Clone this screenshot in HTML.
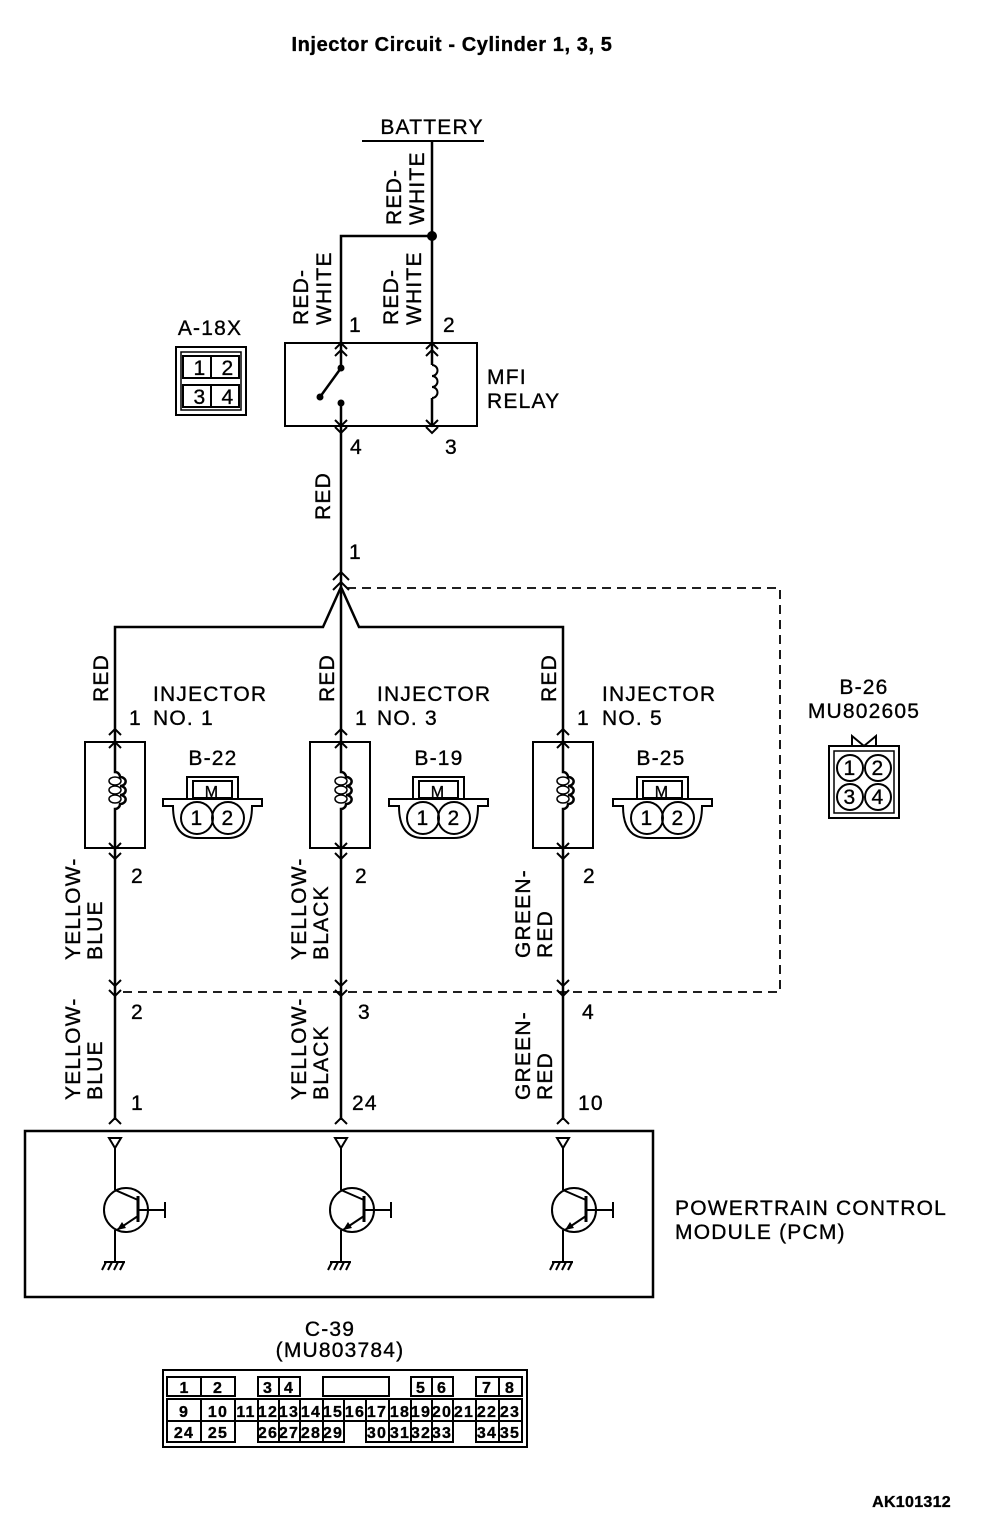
<!DOCTYPE html>
<html><head><meta charset="utf-8"><style>
html,body{margin:0;padding:0;background:#fff}
svg{display:block}
text{font-family:"Liberation Sans",Arial,sans-serif;fill:#000}
.m text{letter-spacing:1.2px;stroke:#000;stroke-width:0.35px}
</style></head><body>
<svg width="1008" height="1536" viewBox="0 0 1008 1536" xmlns="http://www.w3.org/2000/svg">
<g font-size="21" class="m">
<text x="452" y="51" text-anchor="middle" font-weight="bold" font-size="20" style="letter-spacing:0.6px">Injector Circuit - Cylinder 1, 3, 5</text>

<text x="432" y="134" text-anchor="middle">BATTERY</text>
<line x1="362" y1="141" x2="484" y2="141" stroke="#000" stroke-width="2"/>
<g stroke="#000" stroke-width="2.5" fill="none">
<line x1="432" y1="141" x2="432" y2="426"/>
<polyline points="341,426 341,236 432,236"/>
<line x1="341" y1="426" x2="341" y2="627"/>
</g>
<circle cx="432" cy="236" r="5"/>
<text transform="translate(401,225) rotate(-90)">RED-</text>
<text transform="translate(424,225) rotate(-90)">WHITE</text>
<text transform="translate(308,325) rotate(-90)">RED-</text>
<text transform="translate(331,325) rotate(-90)">WHITE</text>
<text transform="translate(398,325) rotate(-90)">RED-</text>
<text transform="translate(421,325) rotate(-90)">WHITE</text>
<text x="349" y="332">1</text><text x="443" y="332">2</text>
<text x="350" y="454">4</text><text x="445" y="454">3</text>

<rect x="285" y="343" width="192" height="83" fill="#fff" stroke="#000" stroke-width="2"/>
<g stroke="#000" stroke-width="2.5" fill="none">
<line x1="341" y1="343" x2="341" y2="368"/>
<line x1="341" y1="368" x2="320" y2="397"/>
<line x1="341" y1="403" x2="341" y2="426"/>
<line x1="432" y1="343" x2="432" y2="365"/>
<line x1="432" y1="398" x2="432" y2="426"/>
<path d="M432,365 a5,5 0 0 1 0,11 a5,5 0 0 1 0,11 a5,5 0 0 1 0,11" stroke-width="2"/>
<path d="M335,349 l6,-6 l6,6 M335,356 l6,-6 l6,6 M426,349 l6,-6 l6,6 M426,356 l6,-6 l6,6" stroke-width="2"/>
<path d="M335,420 l6,6 l6,-6 M335,427 l6,6 l6,-6 M426,420 l6,6 l6,-6 M426,427 l6,6 l6,-6" stroke-width="2"/>
</g>
<circle cx="341" cy="368" r="3.5"/><circle cx="320" cy="397" r="3.5"/><circle cx="341" cy="403" r="3.5"/>
<text x="487" y="384">MFI</text><text x="487" y="408">RELAY</text>

<text x="210" y="335" text-anchor="middle">A-18X</text>
<rect x="176" y="347" width="70" height="68" fill="none" stroke="#000" stroke-width="2"/>
<rect x="181" y="352" width="60" height="58" fill="none" stroke="#000" stroke-width="1.5"/>
<rect x="183" y="356" width="28" height="22" fill="none" stroke="#000" stroke-width="2"/>
<rect x="211" y="356" width="28" height="22" fill="none" stroke="#000" stroke-width="2"/>
<rect x="183" y="385" width="28" height="22" fill="none" stroke="#000" stroke-width="2"/>
<rect x="211" y="385" width="28" height="22" fill="none" stroke="#000" stroke-width="2"/>
<text x="200" y="375" text-anchor="middle">1</text><text x="228" y="375" text-anchor="middle">2</text>
<text x="200" y="404" text-anchor="middle">3</text><text x="228" y="404" text-anchor="middle">4</text>

<text transform="translate(330,520) rotate(-90)">RED</text>
<text x="349" y="559">1</text>

<g stroke="#000" stroke-width="2.5" fill="none">
<polyline points="115,992 115,627 323,627 341,587 359,627 563,627 563,1120"/>
<line x1="115" y1="992" x2="115" y2="1120"/>
<line x1="341" y1="627" x2="341" y2="1120"/>
<path d="M333,580 l8,-8 l8,8 M333,590 l8,-8 l8,8" stroke-width="2"/>
</g>
<polyline points="347,588 780,588 780,992 118,992" fill="none" stroke="#000" stroke-width="1.8" stroke-dasharray="9,6"/>

<g stroke="#000" stroke-width="2" fill="none">
<rect x="85" y="742" width="60" height="106" fill="#fff"/>
<rect x="310" y="742" width="60" height="106" fill="#fff"/>
<rect x="533" y="742" width="60" height="106" fill="#fff"/>
</g>
<g stroke="#000" stroke-width="2.5" fill="none">
<path d="M115,742 V772 a5,5 0 0 1 5,5 a5,4 0 0 1 0,9 a5,4 0 0 1 0,9 a5,4 0 0 1 0,9 a5,5 0 0 1 -5,5 V848"/>
<path d="M341,742 V772 a5,5 0 0 1 5,5 a5,4 0 0 1 0,9 a5,4 0 0 1 0,9 a5,4 0 0 1 0,9 a5,5 0 0 1 -5,5 V848"/>
<path d="M563,742 V772 a5,5 0 0 1 5,5 a5,4 0 0 1 0,9 a5,4 0 0 1 0,9 a5,4 0 0 1 0,9 a5,5 0 0 1 -5,5 V848"/>
<g stroke-width="2">
<path d="M109,735 l6,-6 l6,6 M109,748 l6,-6 l6,6 M109,843 l6,6 l6,-6 M109,853 l6,6 l6,-6"/>
<path d="M335,735 l6,-6 l6,6 M335,748 l6,-6 l6,6 M335,843 l6,6 l6,-6 M335,853 l6,6 l6,-6"/>
<path d="M557,735 l6,-6 l6,6 M557,748 l6,-6 l6,6 M557,843 l6,6 l6,-6 M557,853 l6,6 l6,-6"/>
<path d="M109,980 l6,6 l6,-6 M109,990 l6,6 l6,-6 M335,980 l6,6 l6,-6 M335,990 l6,6 l6,-6 M557,980 l6,6 l6,-6 M557,990 l6,6 l6,-6"/>
</g>
</g>
<g stroke="#000" stroke-width="1.5" fill="none">
<ellipse cx="115" cy="781" rx="6" ry="4"/><ellipse cx="115" cy="790" rx="6" ry="4"/><ellipse cx="115" cy="799" rx="6" ry="4"/>
<ellipse cx="341" cy="781" rx="6" ry="4"/><ellipse cx="341" cy="790" rx="6" ry="4"/><ellipse cx="341" cy="799" rx="6" ry="4"/>
<ellipse cx="563" cy="781" rx="6" ry="4"/><ellipse cx="563" cy="790" rx="6" ry="4"/><ellipse cx="563" cy="799" rx="6" ry="4"/>
</g>

<text transform="translate(108,702) rotate(-90)">RED</text>
<text transform="translate(334,702) rotate(-90)">RED</text>
<text transform="translate(556,702) rotate(-90)">RED</text>
<text x="129" y="725">1</text><text x="153" y="701">INJECTOR</text><text x="153" y="725">NO. 1</text>
<text x="355" y="725">1</text><text x="377" y="701">INJECTOR</text><text x="377" y="725">NO. 3</text>
<text x="577" y="725">1</text><text x="602" y="701">INJECTOR</text><text x="602" y="725">NO. 5</text>

<text x="213" y="765" text-anchor="middle">B-22</text>
<text x="439" y="765" text-anchor="middle">B-19</text>
<text x="661" y="765" text-anchor="middle">B-25</text>

<g stroke="#000" stroke-width="2" fill="none">
<path d="M187,798 V777 H238 V798"/>
<rect x="193" y="781" width="39" height="17"/>
<path d="M163,799 H262 V806 H252 Q252,838 228,838 H197 Q173,838 173,806 H163 Z"/>
<circle cx="197" cy="818" r="16"/><circle cx="228" cy="818" r="16"/>
</g>
<text x="212" y="797" text-anchor="middle" font-size="16">M</text>
<text x="197" y="825" text-anchor="middle">1</text><text x="228" y="825" text-anchor="middle">2</text>
<g transform="translate(226,0)">
<g stroke="#000" stroke-width="2" fill="none">
<path d="M187,798 V777 H238 V798"/>
<rect x="193" y="781" width="39" height="17"/>
<path d="M163,799 H262 V806 H252 Q252,838 228,838 H197 Q173,838 173,806 H163 Z"/>
<circle cx="197" cy="818" r="16"/><circle cx="228" cy="818" r="16"/>
</g>
<text x="212" y="797" text-anchor="middle" font-size="16">M</text>
<text x="197" y="825" text-anchor="middle">1</text><text x="228" y="825" text-anchor="middle">2</text>
</g>
<g transform="translate(450,0)">
<g stroke="#000" stroke-width="2" fill="none">
<path d="M187,798 V777 H238 V798"/>
<rect x="193" y="781" width="39" height="17"/>
<path d="M163,799 H262 V806 H252 Q252,838 228,838 H197 Q173,838 173,806 H163 Z"/>
<circle cx="197" cy="818" r="16"/><circle cx="228" cy="818" r="16"/>
</g>
<text x="212" y="797" text-anchor="middle" font-size="16">M</text>
<text x="197" y="825" text-anchor="middle">1</text><text x="228" y="825" text-anchor="middle">2</text>
</g>

<text x="864" y="694" text-anchor="middle">B-26</text>
<text x="864" y="718" text-anchor="middle">MU802605</text>
<path d="M852,746 L852,736 L864,746 L876,736 L876,746" fill="none" stroke="#000" stroke-width="2"/>
<rect x="829" y="746" width="70" height="72" fill="none" stroke="#000" stroke-width="2"/>
<rect x="834" y="751" width="60" height="62" fill="none" stroke="#000" stroke-width="1.5"/>
<g stroke="#000" stroke-width="2" fill="none">
<circle cx="850" cy="768" r="13"/><circle cx="878" cy="768" r="13"/>
<circle cx="850" cy="797" r="13"/><circle cx="878" cy="797" r="13"/>
</g>
<text x="850" y="775" text-anchor="middle">1</text><text x="878" y="775" text-anchor="middle">2</text>
<text x="850" y="804" text-anchor="middle">3</text><text x="878" y="804" text-anchor="middle">4</text>

<text x="131" y="883">2</text><text x="355" y="883">2</text><text x="583" y="883">2</text>
<text transform="translate(80,960) rotate(-90)">YELLOW-</text>
<text transform="translate(102,960) rotate(-90)">BLUE</text>
<text transform="translate(306,960) rotate(-90)">YELLOW-</text>
<text transform="translate(328,960) rotate(-90)">BLACK</text>
<text transform="translate(530,958) rotate(-90)">GREEN-</text>
<text transform="translate(552,958) rotate(-90)">RED</text>
<text x="131" y="1019">2</text><text x="358" y="1019">3</text><text x="582" y="1019">4</text>
<text transform="translate(80,1100) rotate(-90)">YELLOW-</text>
<text transform="translate(102,1100) rotate(-90)">BLUE</text>
<text transform="translate(306,1100) rotate(-90)">YELLOW-</text>
<text transform="translate(328,1100) rotate(-90)">BLACK</text>
<text transform="translate(530,1100) rotate(-90)">GREEN-</text>
<text transform="translate(552,1100) rotate(-90)">RED</text>
<text x="131" y="1110">1</text><text x="352" y="1110">24</text><text x="578" y="1110">10</text>
<g stroke="#000" stroke-width="2" fill="none">
<path d="M109,1124 l6,-6 l6,6 M335,1124 l6,-6 l6,6 M557,1124 l6,-6 l6,6"/>
</g>

<rect x="25" y="1131" width="628" height="166" fill="none" stroke="#000" stroke-width="2.5"/>
<text x="675" y="1215">POWERTRAIN CONTROL</text>
<text x="675" y="1239">MODULE (PCM)</text>
<g id="tr">
<g stroke="#000" stroke-width="2" fill="none">
<path d="M109,1138 h12 l-6,10 z"/>
<line x1="115" y1="1148" x2="115" y2="1190"/>
<circle cx="126" cy="1210" r="22"/>
<line x1="115" y1="1190" x2="138" y2="1200"/>
<line x1="138" y1="1196" x2="138" y2="1222" stroke-width="3"/>
<line x1="138" y1="1216" x2="117" y2="1230"/>
<line x1="138" y1="1210" x2="165" y2="1210"/>
<line x1="165" y1="1202" x2="165" y2="1218"/>
<line x1="115" y1="1230" x2="115" y2="1262"/>
<line x1="104" y1="1262" x2="125" y2="1262"/>
<path d="M106,1262 l-4,8 M112,1262 l-4,8 M118,1262 l-4,8 M124,1262 l-4,8"/>
</g>
<path d="M117,1230 l9,-2 l-4,-6 z"/>
</g>
<use href="#tr" transform="translate(226,0)"/>
<use href="#tr" transform="translate(448,0)"/>

<text x="330" y="1336" text-anchor="middle">C-39</text>
<text x="340" y="1357" text-anchor="middle">(MU803784)</text>
<rect x="163" y="1370" width="364" height="77" fill="none" stroke="#000" stroke-width="2"/>
<g stroke="#000" stroke-width="2" fill="none">
<rect x="167" y="1377" width="34" height="19"/><rect x="201" y="1377" width="34" height="19"/>
<rect x="258" y="1377" width="21" height="19"/><rect x="279" y="1377" width="21" height="19"/>
<rect x="323" y="1377" width="66" height="19"/>
<rect x="411" y="1377" width="21" height="19"/><rect x="432" y="1377" width="21" height="19"/>
<rect x="476" y="1377" width="23" height="19"/><rect x="499" y="1377" width="23" height="19"/>
<rect x="167" y="1399" width="34" height="22"/><rect x="201" y="1399" width="34" height="22"/>
<rect x="235" y="1399" width="23" height="22"/><rect x="258" y="1399" width="21" height="22"/>
<rect x="279" y="1399" width="21" height="22"/><rect x="300" y="1399" width="23" height="22"/>
<rect x="323" y="1399" width="21" height="22"/><rect x="344" y="1399" width="22" height="22"/>
<rect x="366" y="1399" width="23" height="22"/><rect x="389" y="1399" width="22" height="22"/>
<rect x="411" y="1399" width="21" height="22"/><rect x="432" y="1399" width="21" height="22"/>
<rect x="453" y="1399" width="23" height="22"/><rect x="476" y="1399" width="23" height="22"/>
<rect x="499" y="1399" width="23" height="22"/>
<rect x="167" y="1421" width="34" height="21"/><rect x="201" y="1421" width="34" height="21"/>
<rect x="258" y="1421" width="21" height="21"/><rect x="279" y="1421" width="21" height="21"/>
<rect x="300" y="1421" width="23" height="21"/><rect x="323" y="1421" width="21" height="21"/>
<rect x="366" y="1421" width="23" height="21"/><rect x="389" y="1421" width="22" height="21"/>
<rect x="411" y="1421" width="21" height="21"/><rect x="432" y="1421" width="21" height="21"/>
<rect x="476" y="1421" width="23" height="21"/><rect x="499" y="1421" width="23" height="21"/>
</g>
<g font-size="16" font-weight="bold" text-anchor="middle" style="letter-spacing:0">
<text x="184" y="1393" style="letter-spacing:0">1</text><text x="218" y="1393">2</text><text x="268" y="1393">3</text><text x="289" y="1393">4</text>
<text x="421" y="1393">5</text><text x="442" y="1393">6</text><text x="487" y="1393">7</text><text x="510" y="1393">8</text>
<text x="184" y="1417">9</text><text x="218" y="1417">10</text><text x="246" y="1417">11</text><text x="268" y="1417">12</text>
<text x="289" y="1417">13</text><text x="311" y="1417">14</text><text x="333" y="1417">15</text><text x="355" y="1417">16</text>
<text x="377" y="1417">17</text><text x="400" y="1417">18</text><text x="421" y="1417">19</text><text x="442" y="1417">20</text>
<text x="464" y="1417">21</text><text x="487" y="1417">22</text><text x="510" y="1417">23</text>
<text x="184" y="1438">24</text><text x="218" y="1438">25</text><text x="268" y="1438">26</text><text x="289" y="1438">27</text>
<text x="311" y="1438">28</text><text x="333" y="1438">29</text><text x="377" y="1438">30</text><text x="400" y="1438">31</text>
<text x="421" y="1438">32</text><text x="442" y="1438">33</text><text x="487" y="1438">34</text><text x="510" y="1438">35</text>
</g>

<text x="951" y="1507" text-anchor="end" font-weight="bold" font-size="16" style="letter-spacing:0.3px">AK101312</text>
</g>
</svg>
</body></html>
